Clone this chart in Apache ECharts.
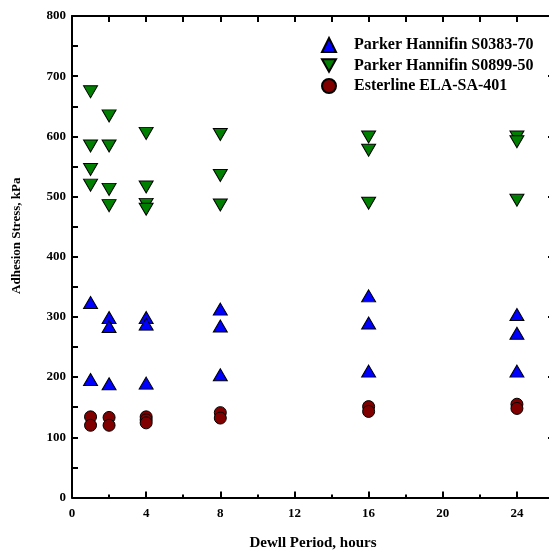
<!DOCTYPE html>
<html><head><meta charset="utf-8">
<script src="https://cdn.jsdelivr.net/npm/echarts@6/dist/echarts.min.js"></script>
<style>html,body{margin:0;padding:0;background:#fff}#c{width:549px;height:553px}</style>
</head><body><div id="c"></div>
<script>
const seriesNames = ['Parker Hannifin S0383-70','Parker Hannifin S0899-50','Esterline ELA-SA-401'];
const xTickLabels = [0,4,8,12,16,20,24];
const yTickLabels = [0,100,200,300,400,500,600,700,800];
// [hours, kPa]
const s0383 = [[1,324],[1,196],[2,299],[2,284],[2,189],[4,299],[4,288],[4,190],[8,313],[8,285],[8,204],[16,335],[16,290],[16,210],[24,304],[24,273],[24,210]];
const s0899 = [[1,674],[1,584],[1,545],[1,519],[2,634],[2,584],[2,512],[2,485],[4,605],[4,516],[4,487],[4,479],[8,603],[8,535],[8,486],[16,599],[16,577],[16,489],[24,599],[24,591],[24,494]];
const ela = [[1,134],[1,120],[2,133],[2,120],[4,134],[4,129],[4,124],[8,141],[8,132],[16,151],[16,143],[24,155],[24,148]];

const font = 'Liberation Serif, Times New Roman, serif';
const downTri = 'path://M0,0 L10,0 L5,9 Z';
const chart = echarts.init(document.getElementById('c'));
const axisLine = {show:true, onZero:false, lineStyle:{color:'#000', width:2}};
chart.setOption({
  animation:false,
  backgroundColor:'#fff',
  grid:{left:72, top:16, width:482, height:481.5, containLabel:false, outerBoundsMode:'none'},
  legend:{
    orient:'vertical', left:316, top:32, itemGap:4.5, itemWidth:14, itemHeight:14,
    textStyle:{fontFamily:font, fontWeight:'bold', fontSize:16, color:'#000', padding:[0,0,0,13]},
    data:seriesNames
  },
  xAxis:[{
    type:'value', min:0, max:26, interval:4, position:'bottom',
    name:'Dewll Period, hours', nameLocation:'middle', nameGap:38,
    nameTextStyle:{fontFamily:font, fontWeight:'bold', fontSize:15, color:'#000'},
    axisLine:axisLine,
    axisTick:{show:true, inside:true, length:6, lineStyle:{color:'#000', width:2}},
    minorTick:{show:true, splitNumber:2, length:3, lineStyle:{color:'#000', width:2}},
    axisLabel:{fontFamily:font, fontWeight:'bold', fontSize:13, color:'#000', margin:10,
      formatter:v => xTickLabels.includes(v) ? String(v) : ''},
    splitLine:{show:false}
  },{
    type:'value', min:0, max:26, interval:2, position:'top',
    axisLine:axisLine,
    axisTick:{show:true, inside:true, length:6, lineStyle:{color:'#000', width:2}},
    axisLabel:{show:false}, splitLine:{show:false}
  }],
  yAxis:[{
    type:'value', min:0, max:800, interval:100, position:'left',
    name:'Adhesion Stress, kPa', nameLocation:'middle', nameGap:49, nameRotate:90,
    nameTextStyle:{fontFamily:font, fontWeight:'bold', fontSize:13, color:'#000', padding:[0,0,0,42]},
    axisLine:axisLine,
    axisTick:{show:true, inside:true, length:6, lineStyle:{color:'#000', width:2}},
    minorTick:{show:true, splitNumber:2, length:6, lineStyle:{color:'#000', width:2}},
    axisLabel:{fontFamily:font, fontWeight:'bold', fontSize:13, color:'#000', margin:6,
      formatter:v => yTickLabels.includes(v) ? String(v) : ''},
    splitLine:{show:false}
  },{
    type:'value', min:0, max:800, interval:100, position:'right',
    axisLine:axisLine,
    axisTick:{show:true, inside:true, length:6, lineStyle:{color:'#000', width:2}},
    axisLabel:{show:false}, splitLine:{show:false}
  }],
  series:[
    {name:seriesNames[0], type:'scatter', data:s0383, symbol:'triangle', symbolSize:[14,12],
     itemStyle:{color:'#0000ff', borderColor:'#000', borderWidth:1, opacity:1}},
    {name:seriesNames[1], type:'scatter', data:s0899, symbol:downTri, symbolSize:[14,12],
     itemStyle:{color:'#008000', borderColor:'#000', borderWidth:1, opacity:1}},
    {name:seriesNames[2], type:'scatter', data:ela, symbol:'circle', symbolSize:12,
     itemStyle:{color:'#800000', borderColor:'#000', borderWidth:1, opacity:1}}
  ]
});
</script></body></html>
